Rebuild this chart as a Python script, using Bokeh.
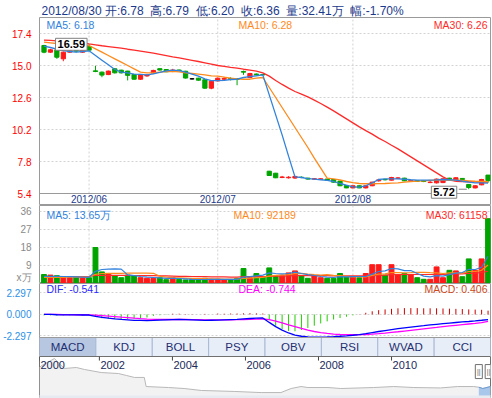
import numpy as np
from bokeh.plotting import figure
from bokeh.layouts import column
from bokeh.models import Range1d, FixedTicker, PrintfTickFormatter, Label, Span
from bokeh.embed import file_html
from bokeh.resources import INLINE
from bokeh.core.properties import value

# ---------------- data ----------------
last_date = "2012/08/30"
last_volume_wan = 32.41
last_change_pct = -1.70

month_idx = [7, 27, 48]
month_labels = ["2012/06", "2012/07", "2012/08"]

opens = [16.50, 16.00, 16.18, 15.50, 16.00, 16.12, 16.00, 16.43, 14.60, 14.50,
         14.32, 14.75, 14.65, 14.58, 14.33, 13.97, 14.22, 14.43, 14.76, 14.70,
         14.60, 14.66, 14.57, 14.00, 14.05, 13.93, 13.30, 13.85, 13.97, 14.02,
         14.00, 14.55, 14.10, 14.36, 14.32, 7.07, 6.92, 6.60, 6.58, 6.56,
         6.62, 6.55, 6.48, 6.46, 6.48, 6.45, 6.33, 6.00, 5.82, 5.98,
         5.82, 5.98, 6.35, 6.46, 6.40, 6.54, 6.55, 6.34, 6.36, 6.36,
         6.22, 6.20, 6.22, 6.55, 6.35, 6.53, 6.08, 5.82, 6.05, 6.78]
closes = [16.00, 16.18, 15.62, 16.00, 16.10, 16.08, 16.20, 16.15, 14.55, 14.28,
          14.58, 14.45, 14.45, 14.26, 13.97, 14.33, 14.28, 14.63, 14.66, 14.53,
          14.66, 14.62, 14.06, 14.00, 13.90, 13.30, 13.82, 14.05, 14.02, 13.98,
          13.95, 14.50, 14.40, 14.30, 14.30, 6.75, 6.58, 6.64, 6.62, 6.68,
          6.60, 6.48, 6.50, 6.50, 6.40, 6.25, 5.98, 5.82, 5.98, 5.82,
          5.98, 6.25, 6.42, 6.43, 6.60, 6.57, 6.35, 6.38, 6.32, 6.30,
          6.25, 6.48, 6.50, 6.42, 6.58, 6.45, 5.85, 5.98, 6.45, 6.36]
highs = [16.55, 16.25, 16.20, 16.05, 16.15, 16.20, 16.25, 16.59, 14.98, 14.55,
         14.62, 14.80, 14.68, 14.60, 14.35, 14.36, 14.35, 14.68, 14.78, 14.72,
         14.75, 14.70, 14.60, 14.06, 14.08, 13.95, 13.86, 14.10, 14.15, 14.12,
         14.05, 14.62, 14.45, 14.40, 14.38, 7.10, 6.95, 6.72, 6.70, 6.72,
         6.68, 6.58, 6.55, 6.54, 6.50, 6.47, 6.35, 6.02, 6.00, 6.00,
         6.00, 6.28, 6.50, 6.50, 6.65, 6.63, 6.58, 6.42, 6.40, 6.38,
         6.40, 6.52, 6.55, 6.58, 6.62, 6.55, 6.10, 6.02, 6.50, 6.79]
lows = [15.92, 15.95, 15.50, 15.32, 15.95, 15.98, 15.95, 16.10, 14.50, 14.12,
        14.28, 14.40, 14.40, 13.88, 13.95, 13.92, 14.15, 14.40, 14.62, 14.50,
        14.50, 14.55, 14.02, 13.94, 13.86, 13.25, 13.22, 13.80, 13.85, 13.88,
        13.52, 14.30, 14.05, 14.25, 14.25, 6.72, 6.55, 6.55, 6.52, 6.50,
        6.55, 6.45, 6.45, 6.42, 6.38, 6.22, 5.95, 5.80, 5.80, 5.80,
        5.78, 5.95, 6.30, 6.38, 6.38, 6.48, 6.33, 6.30, 6.28, 6.25,
        6.18, 6.15, 6.18, 6.38, 6.32, 6.40, 5.72, 5.78, 6.02, 6.20]

ma5 = [16.45, 16.35, 16.22, 16.12, 16.05, 16.00, 16.05, 16.10, 15.75, 15.40,
       15.05, 14.70, 14.50, 14.45, 14.35, 14.33, 14.30, 14.38, 14.48, 14.60,
       14.65, 14.62, 14.50, 14.35, 14.20, 14.00, 13.87, 13.87, 13.88, 13.95,
       13.97, 14.10, 14.17, 14.23, 14.30, 12.80, 11.30, 9.80, 8.20, 6.65,
       6.60, 6.52, 6.48, 6.43, 6.38, 6.30, 6.15, 6.02, 5.90, 5.88,
       5.98, 6.20, 6.45, 6.50, 6.50, 6.50, 6.47, 6.43, 6.40, 6.40,
       6.40, 6.42, 6.45, 6.43, 6.40, 6.32, 6.25, 6.20, 6.20, 6.18]
ma10 = [16.75, 16.70, 16.65, 16.60, 16.55, 16.50, 16.50, 16.50, 16.25, 16.00,
        15.75, 15.50, 15.25, 15.00, 14.75, 14.50, 14.45, 14.45, 14.50, 14.55,
        14.57, 14.52, 14.45, 14.40, 14.35, 14.30, 14.22, 14.20, 14.12, 14.05,
        14.00, 13.97, 13.97, 14.05, 14.10, 13.35, 12.60, 11.85, 11.10, 10.35,
        9.60, 8.85, 8.05, 7.30, 6.55, 6.50, 6.42, 6.30, 6.22, 6.15,
        6.13, 6.13, 6.14, 6.15, 6.18, 6.20, 6.25, 6.30, 6.33, 6.35,
        6.38, 6.40, 6.40, 6.38, 6.40, 6.38, 6.35, 6.32, 6.30, 6.28]
ma30 = [16.90, 16.88, 16.85, 16.82, 16.78, 16.75, 16.70, 16.62, 16.55, 16.48,
        16.42, 16.36, 16.30, 16.22, 16.15, 16.08, 16.00, 15.92, 15.83, 15.74,
        15.65, 15.57, 15.48, 15.39, 15.30, 15.20, 15.10, 15.00, 14.93, 14.86,
        14.80, 14.72, 14.65, 14.58, 14.45, 14.20, 13.88, 13.58, 13.30, 13.05,
        12.85, 12.65, 12.40, 12.15, 11.88, 11.60, 11.30, 11.00, 10.70, 10.40,
        10.12, 9.85, 9.55, 9.30, 9.02, 8.75, 8.45, 8.15, 7.85, 7.55,
        7.25, 6.95, 6.65, 6.40, 6.32, 6.30, 6.28, 6.27, 6.26, 6.26]
ma_labels = ["MA5: 6.18", "MA10: 6.28", "MA30: 6.26"]

vols = [4.5, 4.2, 3.9, 2.9, 2.9, 3.4, 3.4, 2.9, 18.0, 5.8,
        5.0, 3.9, 2.9, 4.2, 3.7, 2.9, 2.6, 2.6, 2.9, 1.9,
        2.9, 2.1, 1.8, 2.1, 1.8, 2.6, 2.1, 2.1, 1.8, 1.8,
        2.6, 7.5, 2.9, 5.0, 3.4, 7.8, 3.9, 3.9, 5.3, 6.3,
        3.9, 2.6, 3.9, 2.9, 2.6, 2.6, 5.0, 3.4, 3.4, 2.9,
        5.0, 9.4, 9.4, 4.2, 9.4, 4.2, 5.0, 4.5, 2.9, 2.1,
        2.1, 8.3, 2.9, 6.6, 6.3, 3.4, 12.3, 6.6, 12.3, 32.41]
vol_ma5 = [3.6, 3.6, 3.6, 3.5, 3.4, 3.3, 3.2, 3.1, 6.1, 7.0,
           7.2, 7.3, 7.2, 4.3, 3.9, 3.5, 3.2, 3.0, 2.8, 2.6,
           2.6, 2.5, 2.3, 2.1, 2.0, 2.0, 2.1, 2.1, 2.1, 2.1,
           2.1, 3.2, 3.4, 3.8, 4.2, 5.3, 5.0, 4.8, 5.0, 5.7,
           5.0, 4.4, 4.0, 3.5, 3.2, 3.0, 3.4, 3.3, 3.4, 3.5,
           3.5, 4.7, 6.0, 6.3, 7.5, 7.3, 6.4, 6.5, 5.0, 3.7,
           3.3, 3.9, 3.7, 4.4, 5.2, 5.5, 7.1, 7.0, 8.1, 13.65]
vol_ma10 = [3.0, 3.0, 3.1, 3.1, 3.2, 3.2, 3.2, 3.3, 4.6, 5.0,
            5.1, 5.1, 5.1, 5.2, 5.2, 5.2, 5.2, 5.1, 3.6, 3.2,
            2.9, 2.8, 2.7, 2.6, 2.5, 2.4, 2.3, 2.3, 2.2, 2.2,
            2.2, 2.6, 2.7, 2.9, 3.1, 3.7, 4.1, 4.3, 4.4, 4.9,
            5.1, 4.7, 4.4, 4.2, 4.4, 4.1, 3.9, 3.6, 3.3, 3.3,
            3.3, 4.1, 4.7, 4.8, 5.5, 5.4, 5.3, 5.4, 5.6, 5.6,
            5.4, 5.3, 5.0, 5.3, 5.3, 5.2, 6.0, 6.0, 6.6, 9.22]
vol_ma30 = [3.5, 3.5, 3.5, 3.5, 3.5, 3.5, 3.5, 3.6, 4.0, 4.1,
            4.1, 4.1, 4.1, 4.1, 4.0, 4.0, 3.9, 3.9, 3.8, 3.8,
            3.7, 3.6, 3.6, 3.5, 3.4, 3.4, 3.3, 3.3, 3.3, 3.2,
            3.2, 3.4, 3.4, 3.5, 3.5, 3.6, 3.7, 3.7, 3.8, 3.9,
            3.9, 3.9, 3.9, 3.9, 3.9, 3.8, 3.8, 3.8, 3.8, 3.8,
            3.8, 3.9, 4.1, 4.2, 4.4, 4.4, 4.5, 4.5, 4.5, 4.5,
            4.5, 4.6, 4.6, 4.7, 4.8, 4.8, 5.1, 5.2, 5.5, 6.12]
vol_ma_labels = ["MA5: 13.65万", "MA10: 92189", "MA30: 61158"]

dif = [0.02, 0.00, -0.03, -0.05, -0.05, -0.05, -0.06, -0.06, -0.20, -0.32,
       -0.40, -0.47, -0.53, -0.58, -0.63, -0.64, -0.65, -0.63, -0.60, -0.57,
       -0.55, -0.54, -0.56, -0.58, -0.60, -0.64, -0.62, -0.60, -0.57, -0.55,
       -0.53, -0.48, -0.43, -0.40, -0.37, -0.85, -1.30, -1.68, -1.98, -2.20,
       -2.33, -2.40, -2.42, -2.42, -2.40, -2.37, -2.33, -2.28, -2.22, -2.15,
       -2.05, -1.93, -1.82, -1.72, -1.62, -1.52, -1.43, -1.35, -1.27, -1.20,
       -1.12, -1.05, -0.98, -0.92, -0.86, -0.80, -0.75, -0.69, -0.62, -0.541]
dea = [0.00, 0.00, 0.00, -0.01, -0.02, -0.03, -0.03, -0.04, -0.07, -0.12,
       -0.17, -0.23, -0.29, -0.34, -0.40, -0.45, -0.49, -0.52, -0.53, -0.54,
       -0.54, -0.54, -0.54, -0.55, -0.56, -0.57, -0.58, -0.58, -0.58, -0.57,
       -0.56, -0.55, -0.52, -0.50, -0.47, -0.55, -0.70, -0.90, -1.10, -1.30,
       -1.50, -1.68, -1.82, -1.94, -2.03, -2.10, -2.14, -2.16, -2.17, -2.16,
       -2.14, -2.10, -2.05, -1.99, -1.92, -1.85, -1.77, -1.69, -1.61, -1.53,
       -1.45, -1.38, -1.30, -1.23, -1.16, -1.09, -1.02, -0.95, -0.87, -0.744]
macd_hist = [-0.10, -0.10, -0.12, -0.10, -0.10, -0.10, -0.12, -0.10, -0.26, -0.40,
             -0.46, -0.48, -0.48, -0.48, -0.46, -0.38, -0.32, -0.15, -0.08, -0.03,
             0.08, 0.08, 0.04, 0.03, 0.00, 0.06, 0.00, 0.10, 0.08, 0.10,
             0.10, 0.12, 0.14, 0.12, 0.10, -0.60, -1.20, -1.56, -1.76, -1.80,
             -1.66, -1.44, -1.20, -0.96, -0.74, -0.54, -0.38, -0.24, -0.10, 0.02,
             0.18, 0.34, 0.46, 0.54, 0.60, 0.66, 0.68, 0.68, 0.68, 0.66,
             0.66, 0.66, 0.64, 0.62, 0.60, 0.58, 0.54, 0.52, 0.50, 0.406]
macd_labels = ["DIF: -0.541", "DEA: -0.744", "MACD: 0.406"]

price_ticks = [5.4, 7.8, 10.2, 12.6, 15.0, 17.4]
vol_ticks = [9, 18, 27, 36]
vol_unit_label = "x万"
macd_ticks = [-2.297, 0.0, 2.297]

tab_labels = ["MACD", "KDJ", "BOLL", "PSY", "OBV", "RSI", "WVAD", "CCI"]
active_tab = 0

nav_years = [2000.36, 2000.42, 2000.77, 2000.90, 2001.04, 2001.37, 2001.59, 2002.05, 2002.52, 2002.74,
             2002.96, 2003.23, 2003.28, 2003.89, 2004.32, 2004.79, 2005.69, 2006.43, 2006.97, 2007.25,
             2007.52, 2007.71, 2008.26, 2008.61, 2009.51, 2010.06, 2010.61, 2011.34, 2011.81, 2012.25,
             2012.39, 2012.50, 2012.71]
nav_prices = [20.0, 21.4, 26.4, 22.9, 19.3, 20.0, 18.6, 16.4, 15.7, 14.3,
              12.9, 12.9, 6.4, 5.7, 5.0, 3.6, 2.9, 2.1, 2.1, 5.0,
              6.4, 5.7, 5.7, 5.0, 5.7, 6.4, 5.7, 5.4, 6.4, 6.4,
              5.9, 5.0, 6.4]
nav_tick_years = [2000.36, 2002, 2004, 2006, 2008, 2010]
nav_tick_labels = ["2000", "2002", "2004", "2006", "2008", "2010"]
sel_start, sel_end = 2012.39, 2012.66

# ---------------- styling ----------------
W = 492
ML, MR = 38, 2
FONT = "Liberation Sans"
GRID = "#d2d2d2"
FRAME = "#9a9a9a"
UP, DOWN, FLAT = "#ff1a1a", "#00a400", "#000000"
C5, C10, C30 = "#3282dc", "#ff8a1c", "#ff2a2a"
NAVY = "#1c3a8a"
GAP = " \u00a0"

n = len(closes)
idx = np.arange(n)
cand_col = [UP if c > o else (DOWN if c < o else FLAT) for o, c in zip(opens, closes)]
vol_col = [UP if c > o else DOWN for o, c in zip(opens, closes)]
body_top = np.maximum(opens, closes)
body_bot = np.minimum(opens, closes)


def mkfig(h, xr, yr, yaxis=False):
    p = figure(width=W, height=h, x_range=xr, y_range=yr,
               output_backend="svg", toolbar_location=None,
               x_axis_type=None,
               y_axis_type="linear" if yaxis else None,
               min_border_left=ML, min_border_right=MR,
               min_border_top=0, min_border_bottom=0)
    p.outline_line_color = FRAME
    p.background_fill_color = "white"
    p.border_fill_color = "white"
    for ax in p.axis:
        ax.axis_line_color = None
        ax.major_tick_line_color = None
        ax.minor_tick_line_color = None
        ax.major_label_text_font = FONT
        ax.major_label_text_font_size = "10px"
        ax.major_label_standoff = 2
    return p


def lab(p, x, y, text, color, size="10.5px", align="left", baseline="middle",
        xo=0, yo=0, style="normal", **kw):
    p.add_layout(Label(x=x, y=y, text=text, text_color=color, text_font=FONT,
                       text_font_size=size, text_align=align, text_baseline=baseline,
                       x_offset=xo, y_offset=yo, text_font_style=style, **kw))


def dashed(g, ticks):
    g.ticker = FixedTicker(ticks=ticks)
    g.grid_line_color = GRID
    g.grid_line_dash = "2 2"


xr = Range1d(-0.70, n - 0.62)

# ---------------- title strip ----------------
pT = mkfig(17, xr, Range1d(0, 17))
pT.outline_line_color = None
title = GAP.join([last_date + " 开:%.2f" % opens[-1], "高:%.2f" % highs[-1],
                  "低:%.2f" % lows[-1], "收:%.2f" % closes[-1],
                  "量:%.2f万" % last_volume_wan, "幅:%.2f%%" % last_change_pct])
pT.text(x=[xr.start], y=[6.5], text=[title], x_offset=2, text_align="left",
        text_baseline="alphabetic", text_font=value(FONT), text_font_size="12px",
        text_color=NAVY)

# ---------------- price panel (with date strip below) ----------------
PPX = 0.075  # price per pixel
ybot_p, ytop = 5.4, 18.6
pA = mkfig(188, xr, Range1d(ybot_p - 12 * PPX, ytop), yaxis=True)
pA.yaxis.ticker = FixedTicker(ticks=price_ticks)
pA.yaxis.formatter = PrintfTickFormatter(format="%.1f")
pA.yaxis.major_label_text_color = "#ff0000"
dashed(pA.ygrid[0], price_ticks[1:])
pA.add_layout(Span(location=ybot_p, dimension="width", line_color=FRAME, line_width=1))
pA.segment(x0=month_idx, y0=ybot_p, x1=month_idx, y1=ytop, color=GRID, line_dash="2 2",
           line_width=1)
pA.text(x=month_idx, y=ybot_p - 6.2 * PPX, text=month_labels, text_align="center",
        text_baseline="middle", text_font=value(FONT), text_font_size="10px",
        text_color=NAVY)

pA.segment(x0=idx, y0=highs, x1=idx, y1=lows, color=cand_col, line_width=1)
pA.vbar(x=idx, width=0.66, top=body_top, bottom=body_bot,
        fill_color=cand_col, line_color=cand_col, line_width=1)
pA.line(idx, ma30, color=C30, line_width=1.3)
pA.line(idx, ma10, color=C10, line_width=1.3)
pA.line(idx, ma5, color=C5, line_width=1.3)

lab(pA, xr.start, ytop, ma_labels[0], C5, xo=7, yo=-7.5)
lab(pA, xr.start, ytop, ma_labels[1], C10, xo=199, yo=-7.5)
lab(pA, xr.end, ytop, ma_labels[2], C30, align="right", xo=-3, yo=-7.5)

imax = int(np.argmax(highs))
imin = int(np.argmin(lows))
lab(pA, imax, highs[imax], f"{highs[imax]:.2f}", "#000000", size="11px", align="right",
    xo=-2, style="bold", background_fill_color="white", border_line_color="#808080", padding=2)
lab(pA, imin, lows[imin], f"{lows[imin]:.2f}", "#000000", size="11px", align="right",
    xo=-12, yo=-3, style="bold", background_fill_color="white", border_line_color="#808080", padding=2)
pA.segment(x0=[imin - 10 / 6.45], y0=[lows[imin]], x1=[imin - 0.3], y1=[lows[imin]],
           color="#808080", line_width=1)

# ---------------- volume panel ----------------
vtop = 39.0
pB = mkfig(78, xr, Range1d(0, vtop), yaxis=True)
unit_pos = 3.2
pB.yaxis.ticker = FixedTicker(ticks=[unit_pos] + vol_ticks)
pB.yaxis.major_label_overrides = {unit_pos: vol_unit_label}
pB.yaxis.major_label_text_color = "#888888"
dashed(pB.ygrid[0], vol_ticks)
pB.segment(x0=month_idx, y0=0, x1=month_idx, y1=vtop, color=GRID, line_dash="2 2",
           line_width=1)
pB.vbar(x=idx, width=0.76, top=vols, bottom=0, color=vol_col)
pB.line(idx, vol_ma30, color=C30, line_width=1.2)
pB.line(idx, vol_ma10, color=C10, line_width=1.2)
pB.line(idx, vol_ma5, color=C5, line_width=1.2)
lab(pB, xr.start, vtop, vol_ma_labels[0], C5, xo=7, yo=-9)
lab(pB, xr.start, vtop, vol_ma_labels[1], C10, xo=194, yo=-9)
lab(pB, xr.end, vtop, vol_ma_labels[2], C30, align="right", xo=-3, yo=-9)

# ---------------- MACD panel + indicator tabs ----------------
MPX = 0.1069  # macd units per pixel
mtop = 3.31
m_sep = mtop - 54 * MPX
mbot = mtop - 73 * MPX
pC = mkfig(73, xr, Range1d(mbot, mtop), yaxis=True)
pC.yaxis.ticker = FixedTicker(ticks=macd_ticks)
pC.yaxis.formatter = PrintfTickFormatter(format="%.3f")
pC.yaxis.major_label_text_color = "#2d8fe6"
dashed(pC.ygrid[0], macd_ticks)
hist_col = ["#cc0000" if h > 0 else "#22cc00" for h in macd_hist]
pC.segment(x0=idx, y0=0, x1=idx, y1=macd_hist, color=hist_col, line_width=1)
pC.line(idx, dea, color="#ff00ff", line_width=1.3)
pC.line(idx, dif, color="#0000ff", line_width=1.3)
lab(pC, xr.start, mtop, macd_labels[0], "#2b2bff", xo=7, yo=-5.5)
lab(pC, xr.start, mtop, macd_labels[1], "#ff00ff", xo=199, yo=-5.5)
lab(pC, xr.end, mtop, macd_labels[2], "#cc4a1c", align="right", xo=-3, yo=-5.5)

nt = len(tab_labels)
edges = np.linspace(xr.start, xr.end, nt + 1)
pC.quad(left=edges[:-1], right=edges[1:], top=m_sep, bottom=mbot,
        fill_color=["#b7c7e1" if i == active_tab else "#e8eef8" for i in range(nt)],
        line_color="#a9b8d6", line_width=1)
pC.add_layout(Span(location=m_sep, dimension="width", line_color=FRAME, line_width=1))
pC.text(x=(edges[:-1] + edges[1:]) / 2, y=(m_sep + mbot) / 2, text=tab_labels,
        text_align="center", text_baseline="middle", text_font=value(FONT),
        text_font_size="11.5px", text_color="#1f2f70")

# ---------------- navigator ----------------
ny0, ny1 = -2.14, 27.86
pE = mkfig(42, Range1d(nav_years[0], 2012.71), Range1d(ny0, ny1))
pE.outline_line_color = "#707070"
pE.quad(left=[nav_years[0]], right=[2012.71], bottom=[ny0], top=[0], color="#e6eaf1")
pE.varea(x=nav_years, y1=0, y2=nav_prices, fill_color="#f2f2f2")
pE.line(nav_years, nav_prices, color="#b8b8b8", line_width=1)
ny = np.array(nav_years)
npr = np.array(nav_prices)
m = ny >= sel_start
pE.varea(x=ny[m], y1=0, y2=npr[m], fill_color="#a9c7ea")
pE.line(ny[m], npr[m], color="#6c9bd2", line_width=1)
pE.segment(x0=nav_tick_years, y0=ny1, x1=nav_tick_years, y1=ny1 - 2.9,
           color="#444444", line_width=1)
pE.text(x=nav_tick_years, y=ny1 - 3.4, text=nav_tick_labels, x_offset=1,
        text_align="left", text_baseline="top", text_font=value(FONT),
        text_font_size="11px", text_color="#1a2a5a")
pE.rect(x=[sel_start, sel_end], y=[17.1, 17.1], width=7, height=14,
        width_units="screen", height_units="screen",
        fill_color="white", line_color="#6f6f6f", line_width=1)
pE.text(x=[sel_start, sel_end], y=[17.1, 17.1], text=["||", "||"], text_align="center",
        text_baseline="middle", text_font=value(FONT), text_font_size="7px",
        text_color="#555555")

layout = column(pT, pA, pB, pC, pE, spacing=0)
open("out.html", "w").write(file_html(layout, INLINE))
